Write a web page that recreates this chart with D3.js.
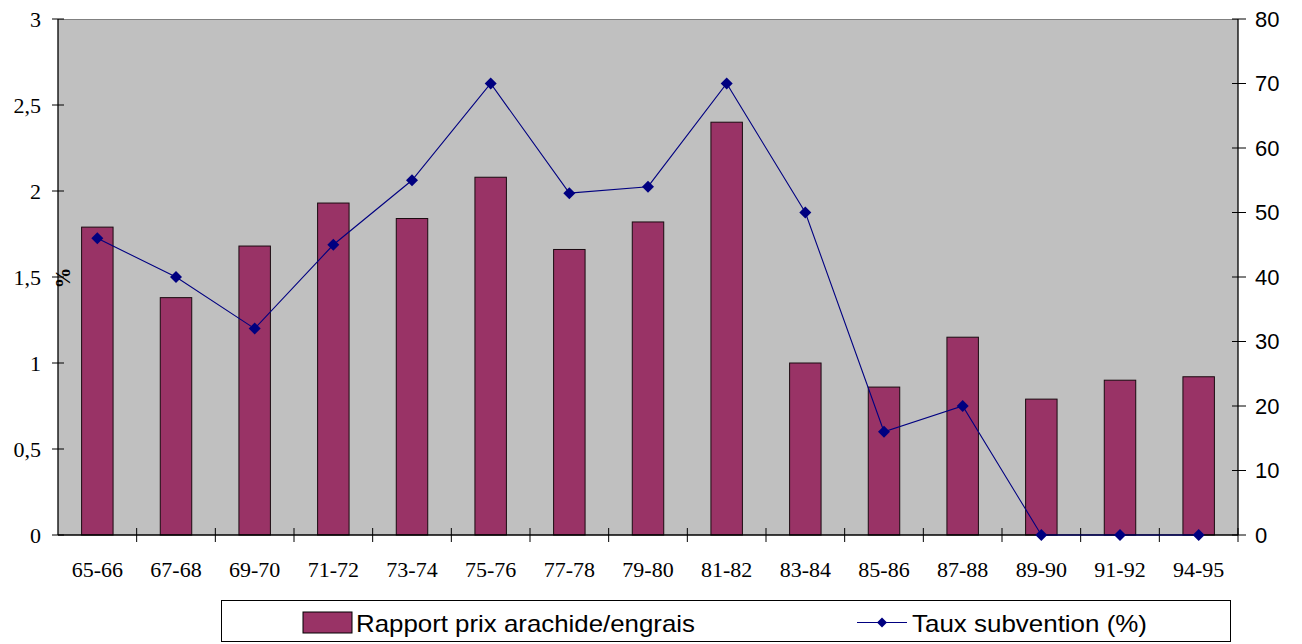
<!DOCTYPE html>
<html><head><meta charset="utf-8">
<script src="https://cdn.jsdelivr.net/npm/d3@7"></script>
<style>body{margin:0;background:#fff}svg{display:block}</style>
</head><body><svg id="c" width="1302" height="644"></svg>
<script>
const categories = ["65-66","67-68","69-70","71-72","73-74","75-76","77-78","79-80","81-82","83-84","85-86","87-88","89-90","91-92","94-95"];
const ratioValues = [1.79,1.38,1.68,1.93,1.84,2.08,1.66,1.82,2.40,1.00,0.86,1.15,0.79,0.90,0.92];
const subsidyValues = [46,40,32,45,55,70,53,54,70,50,16,20,0,0,0];
const leftTicks = [0,0.5,1,1.5,2,2.5,3];
const rightTicks = [0,10,20,30,40,50,60,70,80];
const seriesNames = ["Rapport prix arachide/engrais","Taux subvention (%)"];

const svg = d3.select("#c");
const L=58, R=1238, T=19, B=535;
const x = d3.scaleBand().domain(categories).range([L,R]);
const yL = d3.scaleLinear().domain([0,3]).range([B,T]);
const yR = d3.scaleLinear().domain([0,80]).range([B,T]);
const fmt = d => String(d).replace(".", ",");
const serif = "Liberation Serif, Times New Roman, serif";
const sans = "Liberation Sans, Arial, sans-serif";

svg.append("rect").attr("x",L).attr("y",T).attr("width",R-L).attr("height",B-T).attr("fill","#c0c0c0");
svg.append("line").attr("x1",L).attr("x2",R).attr("y1",T+0.5).attr("y2",T+0.5).attr("stroke","#808080");

const bw = x.bandwidth()*0.4;
svg.selectAll(".bar").data(ratioValues).join("rect")
  .attr("x",(d,i)=>x(categories[i])+x.bandwidth()/2-bw/2)
  .attr("y",d=>yL(d)).attr("width",bw).attr("height",d=>B-yL(d))
  .attr("fill","#993366").attr("stroke","#1a0a10").attr("stroke-width",1);

// Left axis
const gl = svg.append("g");
gl.append("line").attr("x1",L).attr("x2",L).attr("y1",T).attr("y2",B).attr("stroke","#000").attr("stroke-width",1.3);
leftTicks.forEach(t=>{
  gl.append("line").attr("x1",L-6).attr("x2",L+6).attr("y1",yL(t)).attr("y2",yL(t)).attr("stroke","#000");
  gl.append("text").attr("x",L-17).attr("y",yL(t)).attr("dy","0.35em").attr("text-anchor","end")
    .attr("font-family",serif).attr("font-size",22).text(fmt(t));
});
// Right axis
const gr = svg.append("g");
gr.append("line").attr("x1",R).attr("x2",R).attr("y1",T).attr("y2",B).attr("stroke","#000").attr("stroke-width",1.3);
rightTicks.forEach(t=>{
  gr.append("line").attr("x1",R-6).attr("x2",R+8).attr("y1",yR(t)).attr("y2",yR(t)).attr("stroke","#000");
  gr.append("text").attr("x",R+17).attr("y",yR(t)).attr("dy","0.36em").attr("text-anchor","start")
    .attr("font-family",sans).attr("font-size",22).text(t);
});
// Bottom axis
const gb = svg.append("g");
gb.append("line").attr("x1",L).attr("x2",R).attr("y1",B).attr("y2",B).attr("stroke","#000").attr("stroke-width",1.3);
categories.forEach((c,i)=>{
  if(i>0) gb.append("line").attr("x1",x(c)).attr("x2",x(c)).attr("y1",B-7).attr("y2",B+7).attr("stroke","#000");
  gb.append("text").attr("x",x(c)+x.bandwidth()/2).attr("y",B+42).attr("text-anchor","middle")
    .attr("font-family",serif).attr("font-size",22).text(c);
});
gb.append("line").attr("x1",R).attr("x2",R).attr("y1",B-7).attr("y2",B+7).attr("stroke","#000");

// % label
svg.append("text").attr("transform",`translate(${L+12},278) rotate(-90)`).attr("text-anchor","middle")
  .attr("font-family",serif).attr("font-weight","bold").attr("font-size",21).text("%");

// Line
const line = d3.line().x((d,i)=>x(categories[i])+x.bandwidth()/2).y(d=>yR(d));
svg.append("path").datum(subsidyValues).attr("d",line).attr("fill","none").attr("stroke","#000080").attr("stroke-width",1.1);
const dia = r => `M0,${-r}L${r},0L0,${r}L${-r},0Z`;
svg.selectAll(".pt").data(subsidyValues).join("path")
  .attr("transform",(d,i)=>`translate(${x(categories[i])+x.bandwidth()/2},${yR(d)})`)
  .attr("d",dia(6)).attr("fill","#000080");

// Legend
const lg = svg.append("g");
lg.append("rect").attr("x",221.5).attr("y",600.5).attr("width",1009).attr("height",41).attr("fill","#fff").attr("stroke","#000");
lg.append("rect").attr("x",303).attr("y",612).attr("width",49).attr("height",21).attr("fill","#993366").attr("stroke","#000");
lg.append("text").attr("x",356).attr("y",623).attr("dy","0.36em").attr("font-family",sans).attr("font-size",24)
  .attr("textLength",339).attr("lengthAdjust","spacingAndGlyphs").text(seriesNames[0]);
lg.append("line").attr("x1",857).attr("x2",907).attr("y1",622.5).attr("y2",622.5).attr("stroke","#000080").attr("stroke-width",1.2);
lg.append("path").attr("transform","translate(882,622.5)").attr("d",dia(5)).attr("fill","#000080");
lg.append("text").attr("x",912).attr("y",623).attr("dy","0.36em").attr("font-family",sans).attr("font-size",24)
  .attr("textLength",235).attr("lengthAdjust","spacingAndGlyphs").text(seriesNames[1]);
</script></body></html>
